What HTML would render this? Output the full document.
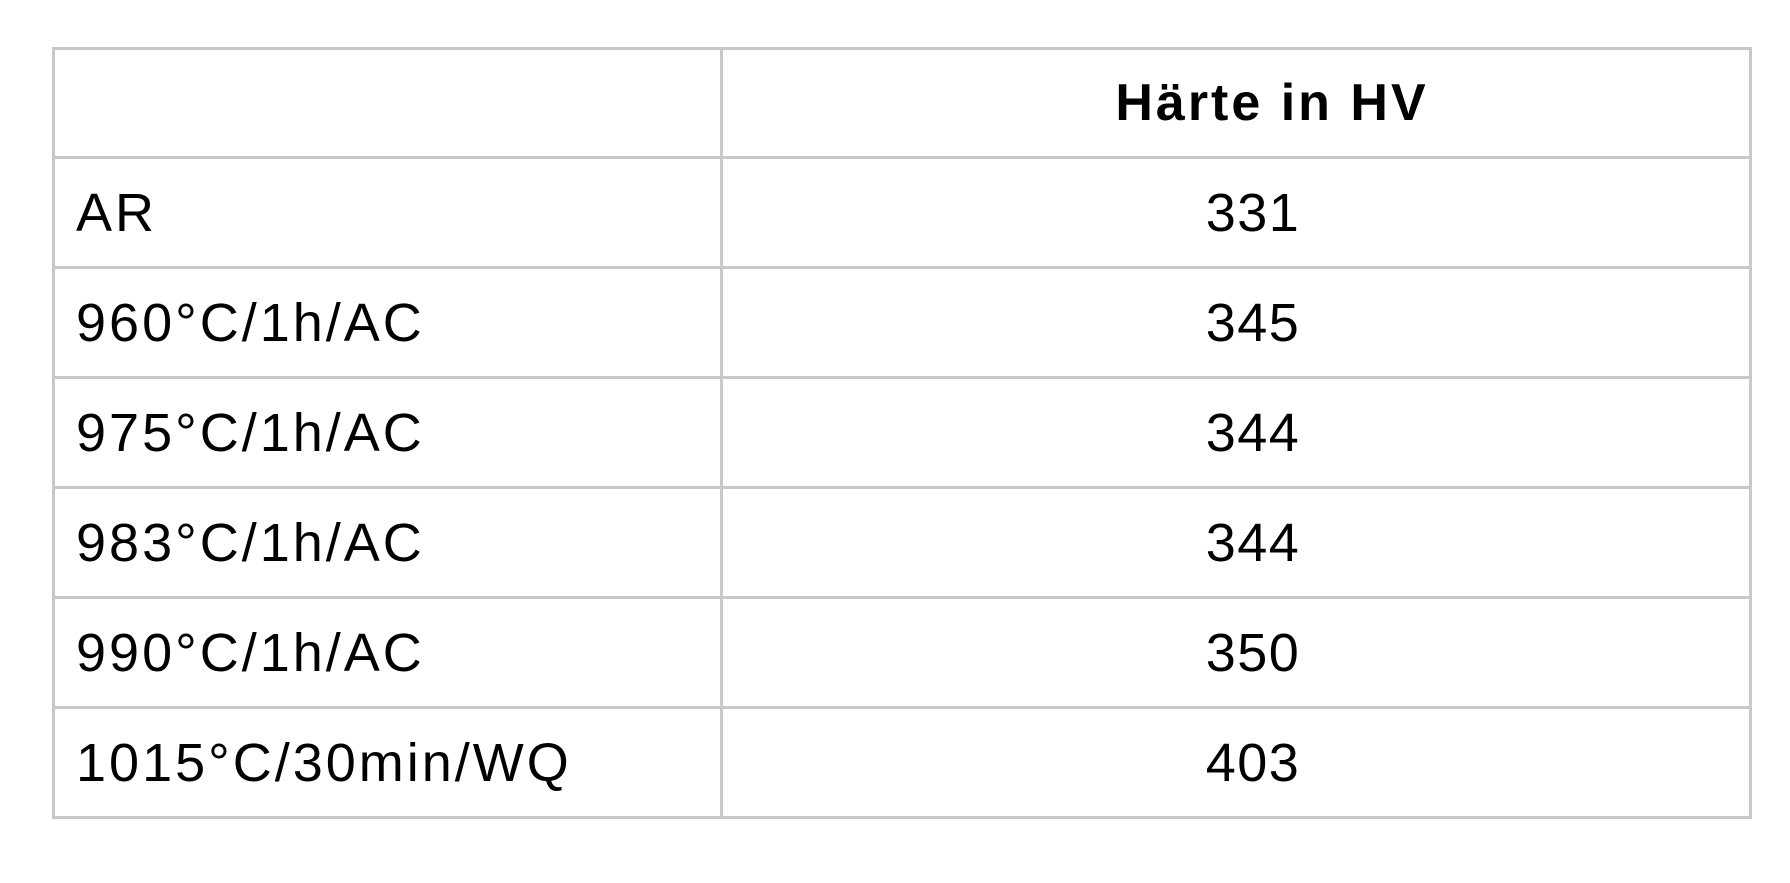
<!DOCTYPE html>
<html><head><meta charset="utf-8"><style>
body{margin:0;width:1790px;height:883px;background:#fff;position:relative;overflow:hidden;font-family:"Liberation Sans",sans-serif;color:#000}
.h{position:absolute;left:52px;width:1700px;height:3px;background:#c8c8c8}
.v{position:absolute;top:47px;height:772px;width:3px;background:#c8c8c8}
.t{position:absolute;font-size:54px;line-height:60px;white-space:nowrap}
.l{left:76px;letter-spacing:3px}
.n{left:1153px;width:200px;text-align:center;letter-spacing:1.5px}
</style></head><body>
<div class="h" style="top:47px"></div>
<div class="h" style="top:156px"></div>
<div class="h" style="top:266px"></div>
<div class="h" style="top:376px"></div>
<div class="h" style="top:486px"></div>
<div class="h" style="top:596px"></div>
<div class="h" style="top:706px"></div>
<div class="h" style="top:816px"></div>
<div class="v" style="left:52px"></div>
<div class="v" style="left:720px"></div>
<div class="v" style="left:1749px"></div>
<div class="t" style="left:1072px;width:400px;text-align:center;top:73px;font-weight:bold;font-size:52px;letter-spacing:3px">Härte in HV</div>
<div class="t l" style="top:183px">AR</div>
<div class="t n" style="top:183px">331</div>
<div class="t l" style="top:293px">960°C/1h/AC</div>
<div class="t n" style="top:293px">345</div>
<div class="t l" style="top:403px">975°C/1h/AC</div>
<div class="t n" style="top:403px">344</div>
<div class="t l" style="top:513px">983°C/1h/AC</div>
<div class="t n" style="top:513px">344</div>
<div class="t l" style="top:623px">990°C/1h/AC</div>
<div class="t n" style="top:623px">350</div>
<div class="t l" style="top:733px">1015°C/30min/WQ</div>
<div class="t n" style="top:733px">403</div>
</body></html>
